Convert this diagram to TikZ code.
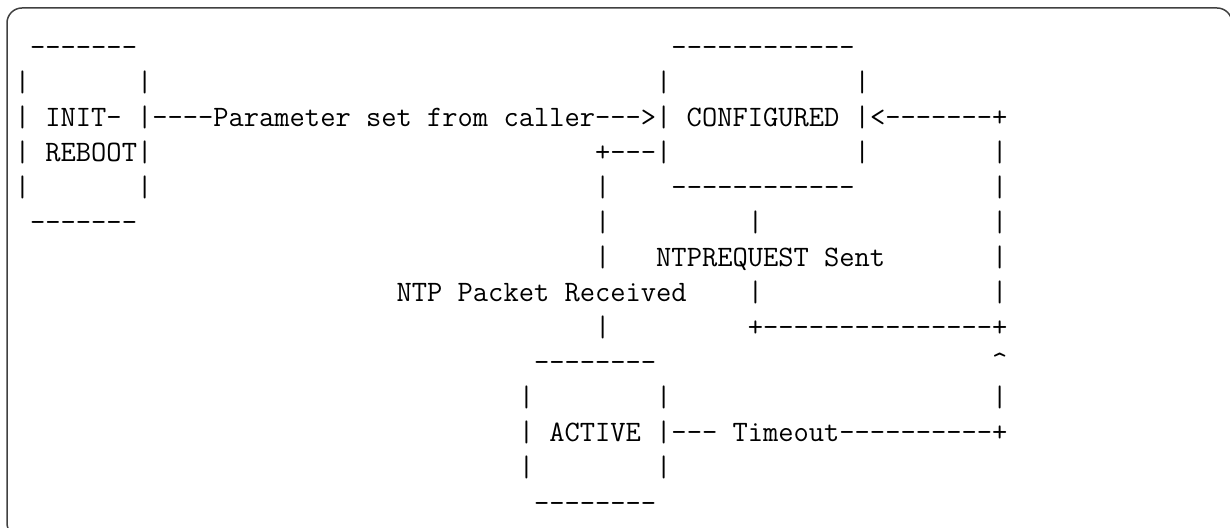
\documentclass[tikz,border=0pt]{standalone}
\usepackage{tikz}
% lmmono12 glyphs are 0.515em wide: 14.825pt gives a 7.635pt (15.27px) cell
\tikzset{
  ascii/.style={inner sep=0pt, outer sep=0pt, anchor=base west, font={\ttfamily\fontsize{14.825pt}{17.5pt}\selectfont}, text=black},
  frameline/.style={draw=black!75, line width=0.75pt, rounded corners=7.5pt}
}
% #1 name, #2 column, #3 row, #4 text
\newcommand\asc[4]{\node[ascii] (#1) at ({14.87+15.27*#2},{57+35*#3}) {#4};}
\begin{document}
\begin{tikzpicture}[x=0.5pt,y=-0.5pt]
\useasboundingbox (0,0) rectangle (1230,528);
\clip (0,0) rectangle (1230,528);
\draw[frameline] (7,8) rectangle (1232,538);
% row 0
\asc{initTop}{1}{0}{-------}
\asc{confTop}{43}{0}{------------}
% row 1
\asc{initL1}{0}{1}{|}
\asc{initR1}{8}{1}{|}
\asc{confL1}{42}{1}{|}
\asc{confR1}{55}{1}{|}
% row 2
\asc{initMid}{0}{2}{| INIT- |}
\asc{paramEdge}{9}{2}{----Parameter set from caller--->}
\asc{confMid}{42}{2}{| CONFIGURED |}
\asc{backEdge}{56}{2}{<-------+}
% row 3
\asc{initMid2}{0}{3}{| REBOOT|}
\asc{rxStart}{38}{3}{+---|}
\asc{confR3}{55}{3}{|}
\asc{loopR3}{64}{3}{|}
% row 4
\asc{initL4}{0}{4}{|}
\asc{initR4}{8}{4}{|}
\asc{rx4}{38}{4}{|}
\asc{confBot}{43}{4}{------------}
\asc{loopR4}{64}{4}{|}
% row 5
\asc{initBot}{1}{5}{-------}
\asc{rx5}{38}{5}{|}
\asc{tx5}{48}{5}{|}
\asc{loopR5}{64}{5}{|}
% row 6
\asc{rx6}{38}{6}{|}
\asc{txLabel}{42}{6}{NTPREQUEST Sent}
\asc{loopR6}{64}{6}{|}
% row 7
\asc{rxLabel}{25}{7}{NTP Packet Received}
\asc{tx7}{48}{7}{|}
\asc{loopR7}{64}{7}{|}
% row 8
\asc{rx8}{38}{8}{|}
\asc{txBottom}{48}{8}{+---------------+}
% row 9
\asc{actTop}{34}{9}{--------}
\asc{caret}{64}{9}{\textasciicircum}
% row 10
\asc{actL10}{33}{10}{|}
\asc{actR10}{42}{10}{|}
\asc{loopR10}{64}{10}{|}
% row 11
\asc{actMid}{33}{11}{| ACTIVE |}
\asc{timeoutEdge}{43}{11}{--- Timeout----------+}
% row 12
\asc{actL12}{33}{12}{|}
\asc{actR12}{42}{12}{|}
% row 13
\asc{actBot}{34}{13}{--------}
\end{tikzpicture}
\end{document}
